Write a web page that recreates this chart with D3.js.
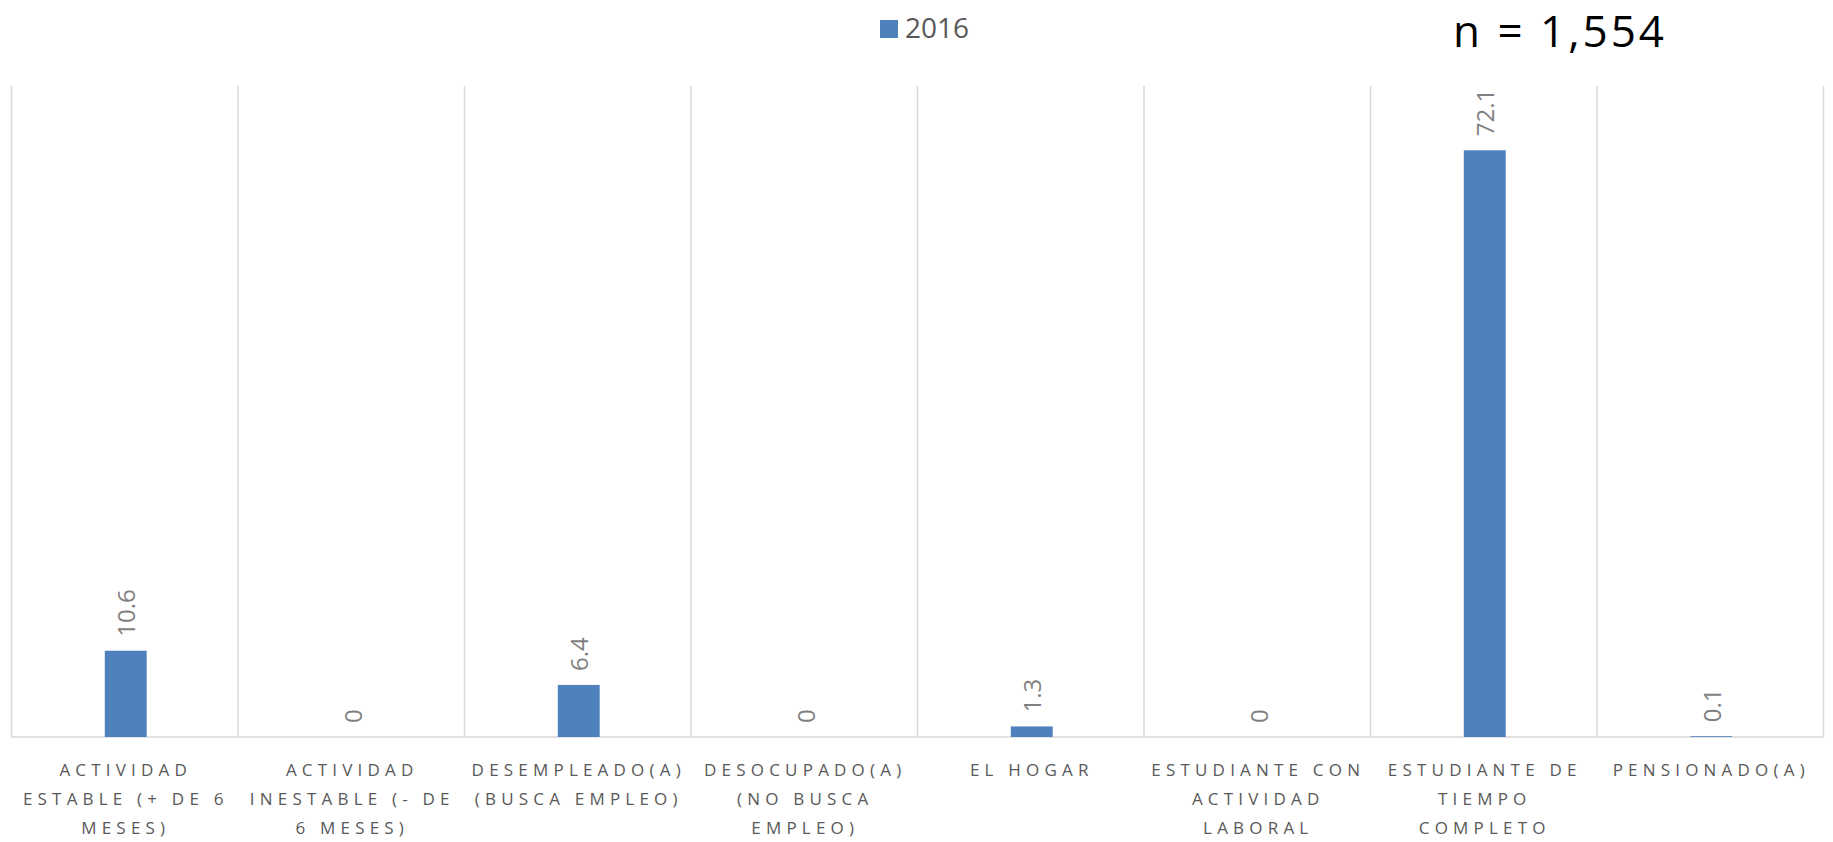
<!DOCTYPE html>
<html><head><meta charset="utf-8">
<script src="https://cdn.jsdelivr.net/npm/d3@7"></script>
<style>body{margin:0;background:#fff}svg{display:block}</style>
</head><body>
<svg id="c" width="1833" height="842"></svg>
<script>
const categories = ["ACTIVIDAD ESTABLE (+ DE 6 MESES)","ACTIVIDAD INESTABLE (- DE 6 MESES)","DESEMPLEADO(A) (BUSCA EMPLEO)","DESOCUPADO(A) (NO BUSCA EMPLEO)","EL HOGAR","ESTUDIANTE CON ACTIVIDAD LABORAL","ESTUDIANTE DE TIEMPO COMPLETO","PENSIONADO(A)"];
const values2016 = [10.6, 0, 6.4, 0, 1.3, 0, 72.1, 0.1];
const seriesName = "2016";
const nLabel = "n = 1,554";
const yMax = 80;

(function(){
const FONT = "'Open Sans', 'Noto Sans', sans-serif";
const svg = d3.select("#c");
const pLeft = 11.5, pRight = 1823.5, pTop = 86, pBottom = 737;
const x = d3.scaleBand().domain(categories).range([pLeft, pRight]).padding(0);
const y = d3.scaleLinear().domain([0, yMax]).range([pBottom, pTop]);
const barW = x.bandwidth() * 0.185;

const bounds = categories.map(c => x(c)).concat([pRight]);
svg.append("g").selectAll("line").data(bounds).join("line")
  .attr("x1", d => d).attr("x2", d => d).attr("y1", pTop).attr("y2", pBottom)
  .attr("stroke", "#d9d9d9").attr("stroke-width", 1.5);
svg.append("line").attr("x1", pLeft).attr("x2", pRight).attr("y1", y(0)).attr("y2", y(0))
  .attr("stroke", "#d9d9d9").attr("stroke-width", 1.5);

svg.append("g").selectAll("rect").data(categories).join("rect")
  .attr("x", c => x(c) + x.bandwidth()/2 - barW/2 + 1)
  .attr("width", barW)
  .attr("y", (c,i) => y(values2016[i]))
  .attr("height", (c,i) => y(0) - y(values2016[i]))
  .attr("fill", "#4f81bd");

svg.append("g").selectAll("text").data(categories).join("text")
  .attr("transform", (c,i) => `translate(${x(c) + x.bandwidth()/2 + 1},${y(values2016[i]) - 14}) rotate(-90)`)
  .attr("text-anchor", "start").attr("dominant-baseline", "central")
  .attr("font-family", FONT).attr("font-size", 24)
  .attr("fill", "#7f7f7f")
  .text((c,i) => String(values2016[i]));

const lbl = svg.append("g");
categories.forEach(c => {
  const cx = x(c) + x.bandwidth()/2;
  const t = lbl.append("text").attr("x", cx).attr("y", 776)
    .attr("text-anchor", "middle").attr("font-family", FONT)
    .attr("font-size", 17).attr("letter-spacing", 5.2).attr("fill", "#595959");
  const words = c.split(" ");
  let lines = [], cur = [];
  const measure = s => { const tmp = t.append("tspan").text(s); const w = tmp.node().getComputedTextLength(); tmp.remove(); return w; };
  words.forEach(w => {
    const trial = cur.concat([w]).join(" ");
    if (cur.length && measure(trial) > 224) { lines.push(cur.join(" ")); cur = [w]; }
    else cur.push(w);
  });
  lines.push(cur.join(" "));
  lines.forEach((l, i) => t.append("tspan").attr("x", cx + 1).attr("dy", i ? 29 : 0).text(l));
});

svg.append("rect").attr("x", 880).attr("y", 20).attr("width", 18).attr("height", 18).attr("fill", "#4f81bd");
svg.append("text").attr("x", 905).attr("y", 38).attr("font-family", FONT)
  .attr("font-size", 28).attr("fill", "#595959").text(seriesName);

svg.append("text").attr("x", 1453).attr("y", 47).attr("font-family", FONT)
  .attr("font-size", 44).attr("letter-spacing", 3).attr("fill", "#000").text(nLabel);
})();
</script>
</body></html>
